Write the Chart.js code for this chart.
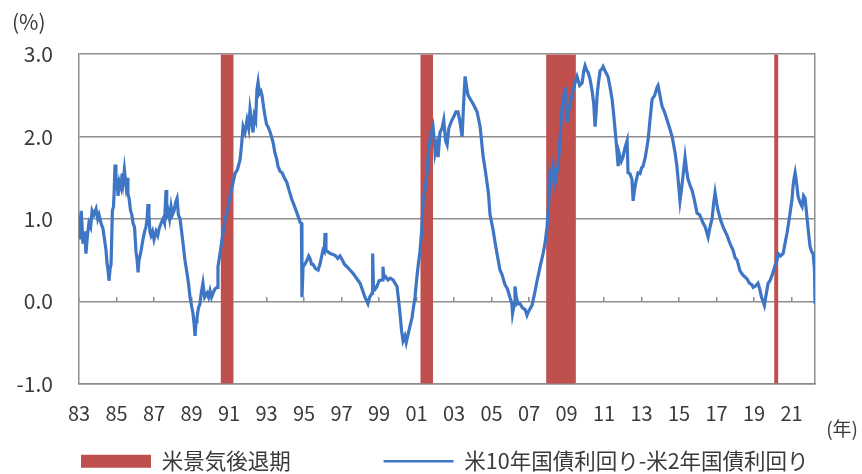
<!DOCTYPE html>
<html><head><meta charset="utf-8">
<script src="https://cdn.jsdelivr.net/npm/chart.js@4.4.1/dist/chart.umd.min.js"></script>
<style>html,body{margin:0;padding:0;background:#fff}#wrap{width:862px;height:474px}</style>
</head><body><div id="wrap"><canvas id="c" width="862" height="474"></canvas></div>
<script>
// ---- data ----
const yearPoints = [1983.00,1983.05,1983.12,1983.21,1983.30,1983.37,1983.45,1983.53,1983.62,1983.70,1983.80,1983.91,1984.00,1984.07,1984.17,1984.28,1984.36,1984.44,1984.50,1984.55,1984.60,1984.66,1984.71,1984.78,1984.84,1984.87,1984.92,1984.97,1985.03,1985.08,1985.15,1985.24,1985.30,1985.35,1985.42,1985.51,1985.58,1985.61,1985.67,1985.75,1985.82,1985.88,1985.96,1986.04,1986.10,1986.15,1986.20,1986.30,1986.41,1986.50,1986.57,1986.63,1986.68,1986.73,1986.78,1986.84,1986.92,1987.00,1987.11,1987.20,1987.27,1987.38,1987.48,1987.56,1987.64,1987.68,1987.75,1987.83,1987.91,1987.98,1988.07,1988.15,1988.23,1988.30,1988.39,1988.47,1988.55,1988.65,1988.76,1988.85,1988.92,1989.00,1989.08,1989.14,1989.19,1989.24,1989.29,1989.37,1989.45,1989.52,1989.61,1989.70,1989.83,1989.91,1989.99,1990.07,1990.15,1990.25,1990.36,1990.41,1990.50,1990.63,1990.79,1990.92,1991.05,1991.18,1991.32,1991.45,1991.59,1991.67,1991.75,1991.85,1991.96,1992.05,1992.12,1992.20,1992.28,1992.35,1992.42,1992.49,1992.55,1992.62,1992.70,1992.76,1992.85,1992.92,1993.00,1993.08,1993.20,1993.35,1993.45,1993.55,1993.61,1993.72,1993.83,1993.95,1994.09,1994.20,1994.36,1994.50,1994.63,1994.79,1994.86,1994.89,1994.95,1995.05,1995.16,1995.25,1995.32,1995.40,1995.48,1995.60,1995.75,1995.85,1996.01,1996.08,1996.12,1996.17,1996.28,1996.40,1996.55,1996.70,1996.80,1996.92,1997.05,1997.15,1997.29,1997.45,1997.61,1997.80,1997.99,1998.10,1998.25,1998.35,1998.41,1998.50,1998.63,1998.66,1998.70,1998.80,1998.89,1999.00,1999.16,1999.21,1999.26,1999.35,1999.48,1999.60,1999.75,1999.85,1999.96,2000.05,2000.12,2000.20,2000.28,2000.38,2000.45,2000.55,2000.65,2000.76,2000.85,2000.92,2001.00,2001.08,2001.18,2001.29,2001.35,2001.45,2001.56,2001.63,2001.72,2001.80,2001.88,2001.95,2001.99,2002.08,2002.15,2002.25,2002.36,2002.45,2002.55,2002.63,2002.72,2002.80,2002.89,2003.00,2003.10,2003.21,2003.30,2003.43,2003.50,2003.59,2003.67,2003.75,2003.88,2004.01,2004.12,2004.23,2004.39,2004.55,2004.66,2004.76,2004.84,2004.92,2005.08,2005.20,2005.29,2005.45,2005.55,2005.72,2005.85,2005.99,2006.08,2006.12,2006.20,2006.25,2006.32,2006.41,2006.52,2006.65,2006.79,2006.89,2006.98,2007.08,2007.16,2007.30,2007.43,2007.59,2007.75,2007.85,2007.96,2008.05,2008.12,2008.20,2008.28,2008.39,2008.47,2008.55,2008.65,2008.76,2008.84,2008.92,2009.03,2009.10,2009.19,2009.35,2009.45,2009.56,2009.70,2009.83,2009.92,2009.99,2010.08,2010.15,2010.25,2010.36,2010.45,2010.52,2010.58,2010.63,2010.70,2010.79,2010.88,2010.95,2011.05,2011.21,2011.32,2011.43,2011.50,2011.59,2011.68,2011.75,2011.80,2011.85,2011.92,2012.01,2012.10,2012.23,2012.28,2012.38,2012.49,2012.55,2012.62,2012.70,2012.81,2012.92,2013.00,2013.08,2013.20,2013.35,2013.45,2013.56,2013.70,2013.83,2013.88,2013.98,2014.09,2014.22,2014.36,2014.50,2014.63,2014.79,2014.88,2014.95,2015.05,2015.15,2015.25,2015.32,2015.40,2015.48,2015.60,2015.69,2015.80,2015.96,2016.10,2016.28,2016.40,2016.55,2016.65,2016.76,2016.85,2016.92,2017.00,2017.08,2017.20,2017.35,2017.56,2017.72,2017.88,2017.99,2018.10,2018.25,2018.40,2018.63,2018.75,2018.89,2018.95,2019.05,2019.21,2019.30,2019.40,2019.48,2019.55,2019.62,2019.75,2019.85,2020.01,2020.10,2020.23,2020.28,2020.40,2020.55,2020.65,2020.76,2020.92,2021.03,2021.08,2021.14,2021.19,2021.26,2021.35,2021.45,2021.56,2021.64,2021.72,2021.83,2021.92,2021.99,2022.08,2022.15,2022.22,2022.25];
const spreadValues = [1.05,0.75,1.10,0.70,0.85,0.58,0.80,0.95,0.90,1.10,1.05,1.12,1.00,1.05,0.95,0.88,0.75,0.62,0.45,0.38,0.25,0.40,0.45,1.10,1.15,1.30,1.66,1.35,1.50,1.28,1.45,1.38,1.55,1.45,1.60,1.40,1.50,1.30,1.25,1.10,1.05,0.95,0.90,0.60,0.50,0.35,0.50,0.60,0.75,0.85,0.90,1.00,1.18,1.05,0.85,0.80,0.85,0.75,0.85,0.80,0.88,0.95,1.00,0.95,1.35,1.05,1.10,1.00,1.15,1.05,1.10,1.20,1.25,1.05,1.00,0.85,0.70,0.50,0.34,0.20,0.05,-0.05,-0.15,-0.28,-0.42,-0.25,-0.20,-0.08,-0.03,0.10,0.22,0.05,0.10,0.05,0.13,0.05,0.10,0.15,0.17,0.42,0.55,0.75,1.00,1.10,1.27,1.40,1.55,1.60,1.72,1.90,2.12,2.05,2.20,2.10,2.33,2.20,2.05,2.25,2.20,2.57,2.66,2.52,2.55,2.50,2.35,2.25,2.15,2.12,2.05,1.93,1.80,1.72,1.64,1.58,1.56,1.50,1.44,1.35,1.23,1.15,1.07,0.96,0.95,0.05,0.42,0.45,0.50,0.55,0.52,0.45,0.45,0.40,0.38,0.45,0.62,0.60,0.83,0.62,0.60,0.58,0.57,0.55,0.52,0.55,0.50,0.45,0.42,0.38,0.34,0.28,0.22,0.15,0.05,0.00,-0.03,0.05,0.10,0.58,0.20,0.15,0.18,0.25,0.26,0.42,0.28,0.30,0.26,0.28,0.26,0.22,0.18,0.00,-0.15,-0.35,-0.48,-0.42,-0.50,-0.40,-0.30,-0.20,-0.05,0.05,0.25,0.42,0.60,0.90,1.23,1.35,1.56,1.80,1.96,2.05,2.12,1.95,1.80,1.90,1.75,2.05,2.10,2.20,1.95,1.90,2.10,2.15,2.20,2.25,2.30,2.30,2.20,2.00,2.35,2.73,2.60,2.50,2.45,2.40,2.35,2.30,2.12,1.76,1.60,1.44,1.30,1.05,0.87,0.70,0.58,0.38,0.33,0.20,0.15,0.04,-0.02,-0.15,-0.05,0.18,0.05,-0.03,-0.03,-0.08,-0.10,-0.17,-0.12,-0.08,-0.05,0.10,0.25,0.42,0.58,0.70,0.90,1.20,1.56,1.50,1.64,1.44,1.55,1.64,1.96,2.37,2.45,2.60,2.17,2.30,2.40,2.56,2.65,2.73,2.62,2.65,2.80,2.86,2.80,2.78,2.70,2.56,2.40,2.12,2.30,2.50,2.65,2.80,2.82,2.85,2.80,2.73,2.60,2.45,2.30,2.08,1.85,1.64,1.80,1.80,1.70,1.75,1.85,1.95,1.56,1.55,1.48,1.22,1.35,1.45,1.56,1.55,1.62,1.64,1.75,1.96,2.20,2.45,2.50,2.60,2.62,2.50,2.37,2.30,2.20,2.10,2.00,1.80,1.65,1.48,1.22,1.40,1.60,1.75,1.60,1.48,1.40,1.35,1.25,1.07,1.05,0.95,0.90,0.78,0.90,1.00,1.20,1.32,1.20,1.10,1.00,0.90,0.80,0.70,0.62,0.53,0.50,0.37,0.32,0.27,0.22,0.20,0.17,0.18,0.22,0.15,0.05,0.00,-0.05,0.05,0.22,0.25,0.35,0.42,0.50,0.58,0.55,0.58,0.70,0.83,1.07,1.25,1.40,1.50,1.56,1.45,1.27,1.20,1.15,1.28,1.25,1.00,0.80,0.66,0.60,0.58,0.40,-0.03];
const recessionStart = [1990.55, 2001.20, 2007.91, 2020.07];
const recessionEnd   = [1991.25, 2001.88, 2009.50, 2020.30];
const tickYears  = [1983,1985,1987,1989,1991,1993,1995,1997,1999,2001,2003,2005,2007,2009,2011,2013,2015,2017,2019,2021];
const tickLabels = ['83','85','87','89','91','93','95','97','99','01','03','05','07','09','11','13','15','17','19','21'];
const yTicks = [-1, 0, 1, 2, 3];
const seriesNames = ['米10年国債利回り-米2年国債利回り', '米景気後退期'];

// ---- build chart ----
const BLUE = '#3e75c4', RED = '#c0504d', GRID = '#8e8e8e', TXT = '#3a3a3a';
const FONT = "'Noto Sans CJK JP', 'Noto Sans', sans-serif";
const Y_TOP = yTicks[yTicks.length - 1];
const spreadData = yearPoints.map((t, i) => ({x: t, y: spreadValues[i]}));
const recessionSets = recessionStart.map((s, i) => ({
  label: seriesNames[1],
  data: [{x: s, y: Y_TOP}, {x: recessionEnd[i], y: Y_TOP}],
  borderColor: RED, backgroundColor: RED, borderWidth: 0, pointRadius: 0,
  tension: 0, fill: 'start', order: 1
}));
const setTicks = axis => { axis.ticks = tickYears.map(v => ({value: v})); };

new Chart(document.getElementById('c'), {
  type: 'line',
  data: {
    datasets: [
      {label: seriesNames[0], data: spreadData, borderColor: BLUE, backgroundColor: BLUE,
       borderWidth: 3.2, pointRadius: 0, tension: 0, fill: false, order: 0}
    ].concat(recessionSets)
  },
  options: {
    responsive: false, animation: false, devicePixelRatio: 1,
    layout: {padding: {left: 12, right: 4, top: 0, bottom: -8}},
    scales: {
      x: {type: 'linear', min: 1983, max: 2022.25, afterBuildTicks: setTicks,
          afterFit: s => { s.height = 43; },
          grid: {drawOnChartArea: false, drawTicks: false},
          border: {display: true, color: GRID, width: 1.5},
          ticks: {autoSkip: false, maxRotation: 0, padding: 18, color: TXT,
                  font: {family: FONT, size: 20},
                  callback: (v, i) => tickLabels[i]}},
      x0: {type: 'linear', axis: 'x', min: 1983, max: 2022.25, position: {y: 0},
           afterBuildTicks: setTicks,
           afterFit: s => { s.height = 0; },
           grid: {drawOnChartArea: false, drawTicks: true, tickLength: -4, color: GRID, lineWidth: 1.5},
           border: {display: false}, ticks: {display: false}},
      y: {type: 'linear', min: -1, max: 3, position: 'left',
          afterBuildTicks: a => { a.ticks = yTicks.map(v => ({value: v})); },
          afterFit: s => { s.width = 67; },
          grid: {color: GRID, lineWidth: 1.5, drawTicks: false},
          border: {display: true, color: GRID, width: 1.5},
          ticks: {padding: 26, color: TXT, font: {family: FONT, size: 21},
                  callback: v => v.toFixed(1)}},
      y2: {type: 'linear', min: -1, max: 3, position: 'right',
           afterFit: s => { s.width = 43; },
           grid: {drawOnChartArea: false, drawTicks: false},
           border: {display: true, color: GRID, width: 1.5},
           ticks: {display: false}}
    },
    plugins: {
      title: {display: true, text: '(%)', align: 'start', color: TXT,
              font: {family: FONT, size: 21, weight: 'normal'}, padding: {top: 9, bottom: 20}},
      subtitle: {display: true, text: '(年)', position: 'bottom', align: 'end', weight: 500, color: TXT,
                 font: {family: FONT, size: 19}, padding: {top: -9, bottom: 8}},
      legend: {position: 'bottom', align: 'start', fullSize: false, weight: 1000,
               labels: {usePointStyle: true, pointStyleWidth: 70, boxHeight: 13, padding: 2, color: TXT,
                        font: {family: FONT, size: 21.5},
                        generateLabels: chart => [
                          {text: seriesNames[1] + '\u3000\u3000\u3000\u3000 ', fillStyle: RED, strokeStyle: RED, lineWidth: 0, pointStyle: 'rect', datasetIndex: 1, fontColor: TXT},
                          {text: seriesNames[0], fillStyle: BLUE, strokeStyle: BLUE, lineWidth: 2.5, pointStyle: 'line', datasetIndex: 0, fontColor: TXT}
                        ]}},
      tooltip: {enabled: false}
    }
  }
});
</script></body></html>
